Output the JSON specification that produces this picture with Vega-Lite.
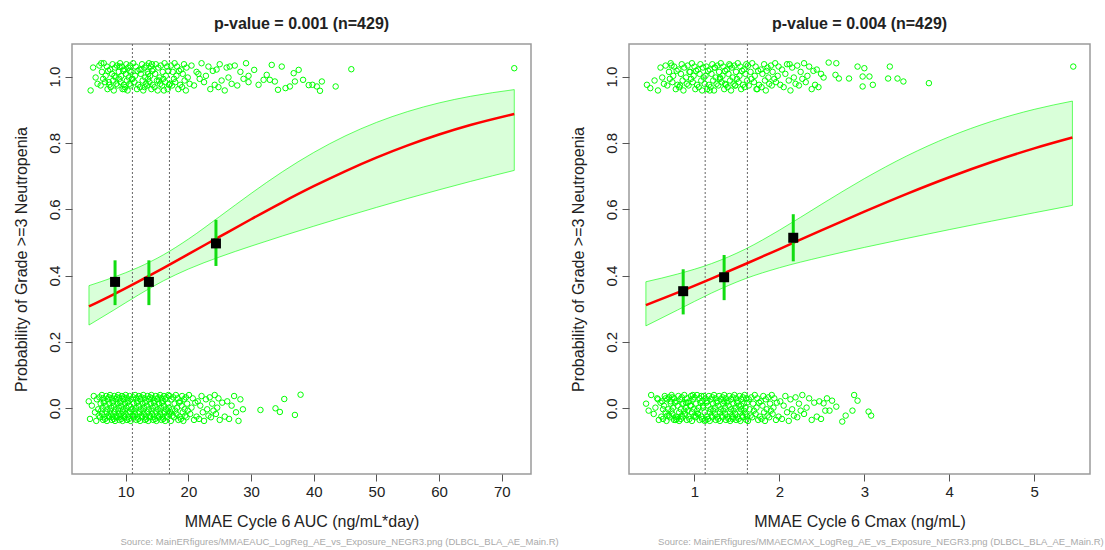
{
"$schema":"https://vega.github.io/schema/vega-lite/v6.json",
"background":"white",
"padding":{"left":12,"top":14,"right":0,"bottom":0},
"spacing":10,
"config":{
"font":"Liberation Sans",
"view":{"stroke":"#9a9a9a","strokeWidth":1.5},
"axis":{"grid":false,"domain":false,"tickColor":"#555555","tickSize":7,"labelFontSize":15,"labelColor":"#222222","titleFontSize":16,"titleFontWeight":"normal","titleColor":"#222222","labelFont":"Liberation Sans","titleFont":"Liberation Sans"},
"axisX":{"labelPadding":3,"titlePadding":14},
"axisY":{"labelPadding":3,"titlePadding":18},
"title":{"font":"Liberation Sans","fontSize":16,"fontWeight":"bold","color":"#222222"}
},
"datasets":{
"ptsA":[
{"x":4.1,"y":0.021},{"x":4.3,"y":-0.032},{"x":4.6,"y":0.008},{"x":4.9,"y":0.037},{"x":5.1,"y":-0.012},{"x":5.3,"y":-0.038},{"x":5.4,"y":0.027},{"x":5.6,"y":-0.003},{"x":5.7,"y":-0.022},{"x":5.8,"y":0.033},{"x":5.9,"y":-0.027},{"x":6.0,"y":0.014},{"x":6.1,"y":-0.007},{"x":6.2,"y":0.040},{"x":6.2,"y":-0.017},{"x":6.3,"y":0.002},{"x":6.4,"y":0.030},{"x":6.4,"y":-0.035},{"x":6.5,"y":0.017},{"x":6.6,"y":-0.025},
{"x":6.6,"y":0.021},{"x":6.7,"y":-0.032},{"x":6.8,"y":0.008},{"x":6.9,"y":0.037},{"x":7.0,"y":-0.012},{"x":7.0,"y":-0.038},{"x":7.1,"y":0.027},{"x":7.1,"y":-0.003},{"x":7.2,"y":-0.022},{"x":7.3,"y":0.033},{"x":7.4,"y":-0.027},{"x":7.4,"y":0.014},{"x":7.5,"y":-0.007},{"x":7.5,"y":0.040},{"x":7.6,"y":-0.017},{"x":7.7,"y":0.002},{"x":7.8,"y":0.030},{"x":7.8,"y":-0.035},{"x":7.9,"y":0.017},{"x":7.9,"y":-0.025},
{"x":8.0,"y":0.021},{"x":8.1,"y":-0.032},{"x":8.1,"y":0.008},{"x":8.2,"y":0.037},{"x":8.2,"y":-0.012},{"x":8.3,"y":-0.038},{"x":8.4,"y":0.027},{"x":8.4,"y":-0.003},{"x":8.5,"y":-0.022},{"x":8.6,"y":0.033},{"x":8.6,"y":-0.027},{"x":8.7,"y":0.014},{"x":8.8,"y":-0.007},{"x":8.8,"y":0.040},{"x":8.9,"y":-0.017},{"x":8.9,"y":0.002},{"x":9.0,"y":0.030},{"x":9.0,"y":-0.035},{"x":9.1,"y":0.017},{"x":9.1,"y":-0.025},
{"x":9.2,"y":0.021},{"x":9.3,"y":-0.032},{"x":9.3,"y":0.008},{"x":9.4,"y":0.037},{"x":9.5,"y":-0.012},{"x":9.5,"y":-0.038},{"x":9.6,"y":0.027},{"x":9.6,"y":-0.003},{"x":9.7,"y":-0.022},{"x":9.7,"y":0.033},{"x":9.8,"y":-0.027},{"x":9.9,"y":0.014},{"x":9.9,"y":-0.007},{"x":10.0,"y":0.040},{"x":10.0,"y":-0.017},{"x":10.1,"y":0.002},{"x":10.2,"y":0.030},{"x":10.2,"y":-0.035},{"x":10.3,"y":0.017},{"x":10.4,"y":-0.025},
{"x":10.4,"y":0.021},{"x":10.5,"y":-0.032},{"x":10.5,"y":0.008},{"x":10.6,"y":0.037},{"x":10.7,"y":-0.012},{"x":10.8,"y":-0.038},{"x":10.8,"y":0.027},{"x":10.9,"y":-0.003},{"x":11.0,"y":-0.022},
{"x":4.4,"y":0.958},{"x":4.8,"y":1.027},{"x":5.2,"y":0.997},{"x":5.5,"y":0.978},{"x":5.8,"y":1.033},{"x":6.0,"y":0.973},{"x":6.2,"y":1.014},{"x":6.4,"y":0.993},{"x":6.5,"y":1.040},{"x":6.7,"y":0.983},{"x":6.8,"y":1.002},{"x":7.0,"y":1.030},{"x":7.1,"y":0.962},{"x":7.2,"y":1.017},{"x":7.4,"y":0.975},{"x":7.5,"y":1.021},{"x":7.6,"y":0.968},{"x":7.8,"y":1.008},{"x":7.9,"y":1.037},{"x":8.0,"y":0.988},
{"x":8.1,"y":0.958},{"x":8.3,"y":1.027},{"x":8.4,"y":0.997},{"x":8.5,"y":0.978},{"x":8.6,"y":1.033},{"x":8.7,"y":0.973},{"x":8.9,"y":1.014},{"x":9.0,"y":0.993},{"x":9.1,"y":1.040},{"x":9.2,"y":0.983},{"x":9.3,"y":1.002},{"x":9.4,"y":1.030},{"x":9.5,"y":0.962},{"x":9.6,"y":1.017},{"x":9.7,"y":0.975},{"x":9.8,"y":1.021},{"x":9.9,"y":0.968},{"x":10.0,"y":1.008},{"x":10.1,"y":1.037},{"x":10.2,"y":0.988},
{"x":10.3,"y":0.958},{"x":10.4,"y":1.027},{"x":10.5,"y":0.997},{"x":10.6,"y":0.978},{"x":10.7,"y":1.033},{"x":10.8,"y":0.973},{"x":10.9,"y":1.014},{"x":11.0,"y":0.993},{"x":6.1,"y":1.040},{"x":7.3,"y":0.983},{"x":8.2,"y":1.002},{"x":9.0,"y":1.030},{"x":9.8,"y":0.962},{"x":10.6,"y":1.017},
{"x":11.1,"y":-0.003},{"x":11.2,"y":-0.022},{"x":11.2,"y":0.033},{"x":11.3,"y":-0.027},{"x":11.3,"y":0.014},{"x":11.4,"y":-0.007},{"x":11.5,"y":0.040},{"x":11.5,"y":-0.017},{"x":11.6,"y":0.002},{"x":11.7,"y":0.030},{"x":11.7,"y":-0.035},{"x":11.8,"y":0.017},{"x":11.9,"y":-0.025},{"x":11.9,"y":0.021},{"x":12.0,"y":-0.032},{"x":12.1,"y":0.008},{"x":12.1,"y":0.037},{"x":12.2,"y":-0.012},{"x":12.3,"y":-0.038},{"x":12.3,"y":0.027},
{"x":12.4,"y":-0.003},{"x":12.5,"y":-0.022},{"x":12.5,"y":0.033},{"x":12.6,"y":-0.027},{"x":12.7,"y":0.014},{"x":12.7,"y":-0.007},{"x":12.8,"y":0.040},{"x":12.9,"y":-0.017},{"x":12.9,"y":0.002},{"x":13.0,"y":0.030},{"x":13.1,"y":-0.035},{"x":13.1,"y":0.017},{"x":13.2,"y":-0.025},{"x":13.3,"y":0.021},{"x":13.3,"y":-0.032},{"x":13.4,"y":0.008},{"x":13.5,"y":0.037},{"x":13.5,"y":-0.012},{"x":13.6,"y":-0.038},{"x":13.7,"y":0.027},
{"x":13.7,"y":-0.003},{"x":13.8,"y":-0.022},{"x":13.9,"y":0.033},{"x":13.9,"y":-0.027},{"x":14.0,"y":0.014},{"x":14.1,"y":-0.007},{"x":14.1,"y":0.040},{"x":14.2,"y":-0.017},{"x":14.3,"y":0.002},{"x":14.3,"y":0.030},{"x":14.4,"y":-0.035},{"x":14.5,"y":0.017},{"x":14.5,"y":-0.025},{"x":14.6,"y":0.021},{"x":14.7,"y":-0.032},{"x":14.7,"y":0.008},{"x":14.8,"y":0.037},{"x":14.9,"y":-0.012},{"x":14.9,"y":-0.038},{"x":15.0,"y":0.027},
{"x":15.1,"y":-0.003},{"x":15.1,"y":-0.022},{"x":15.2,"y":0.033},{"x":15.3,"y":-0.027},{"x":15.3,"y":0.014},{"x":15.4,"y":-0.007},{"x":15.5,"y":0.040},{"x":15.5,"y":-0.017},{"x":15.6,"y":0.002},{"x":15.7,"y":0.030},{"x":15.7,"y":-0.035},{"x":15.8,"y":0.017},{"x":15.9,"y":-0.025},{"x":15.9,"y":0.021},{"x":16.0,"y":-0.032},{"x":16.1,"y":0.008},{"x":16.1,"y":0.037},{"x":16.2,"y":-0.012},{"x":16.3,"y":-0.038},{"x":16.3,"y":0.027},
{"x":16.4,"y":-0.003},{"x":16.5,"y":-0.022},{"x":16.5,"y":0.033},{"x":16.6,"y":-0.027},{"x":16.7,"y":0.014},{"x":16.7,"y":-0.007},{"x":16.8,"y":0.040},{"x":16.9,"y":-0.017},{"x":16.9,"y":0.002},
{"x":11.1,"y":0.993},{"x":11.2,"y":1.040},{"x":11.4,"y":0.983},{"x":11.5,"y":1.002},{"x":11.6,"y":1.030},{"x":11.8,"y":0.962},{"x":11.9,"y":1.017},{"x":12.0,"y":0.975},{"x":12.2,"y":1.021},{"x":12.3,"y":0.968},{"x":12.4,"y":1.008},{"x":12.6,"y":1.037},{"x":12.7,"y":0.988},{"x":12.8,"y":0.958},{"x":13.0,"y":1.027},{"x":13.1,"y":0.997},{"x":13.2,"y":0.978},{"x":13.3,"y":1.033},{"x":13.4,"y":0.973},{"x":13.5,"y":1.014},
{"x":13.6,"y":0.993},{"x":13.7,"y":1.040},{"x":13.8,"y":0.983},{"x":13.9,"y":1.002},{"x":14.0,"y":1.030},{"x":14.1,"y":0.962},{"x":14.2,"y":1.017},{"x":14.3,"y":0.975},{"x":14.4,"y":1.021},{"x":14.6,"y":0.968},{"x":14.7,"y":1.008},{"x":14.8,"y":1.037},{"x":15.0,"y":0.988},{"x":15.1,"y":0.958},{"x":15.2,"y":1.027},{"x":15.4,"y":0.997},{"x":15.5,"y":0.978},{"x":15.6,"y":1.033},{"x":15.8,"y":0.973},{"x":15.9,"y":1.014},
{"x":16.0,"y":0.993},{"x":16.2,"y":1.040},{"x":16.3,"y":0.983},{"x":16.4,"y":1.002},{"x":16.6,"y":1.030},{"x":16.7,"y":0.962},{"x":16.8,"y":1.017},{"x":16.9,"y":0.975},{"x":12.5,"y":1.021},{"x":13.0,"y":0.968},{"x":13.6,"y":1.008},{"x":14.2,"y":1.037},{"x":15.3,"y":0.988},{"x":16.1,"y":0.958},
{"x":17.0,"y":0.037},{"x":17.1,"y":-0.012},{"x":17.2,"y":-0.038},{"x":17.3,"y":0.027},{"x":17.4,"y":-0.003},{"x":17.5,"y":-0.022},{"x":17.6,"y":0.033},{"x":17.7,"y":-0.027},{"x":17.8,"y":0.014},{"x":17.9,"y":-0.007},{"x":18.0,"y":0.040},{"x":18.1,"y":-0.017},{"x":18.2,"y":0.002},{"x":18.3,"y":0.030},{"x":18.4,"y":-0.035},{"x":18.5,"y":0.017},{"x":18.6,"y":-0.025},{"x":18.7,"y":0.021},{"x":18.8,"y":-0.032},{"x":18.9,"y":0.008},
{"x":19.0,"y":0.037},{"x":19.1,"y":-0.012},{"x":19.2,"y":-0.038},{"x":19.3,"y":0.027},{"x":19.4,"y":-0.003},{"x":19.5,"y":-0.022},{"x":19.6,"y":0.033},{"x":19.7,"y":-0.027},{"x":19.8,"y":0.014},{"x":19.9,"y":-0.007},{"x":20.1,"y":0.040},{"x":20.3,"y":-0.017},{"x":20.5,"y":0.002},{"x":20.7,"y":0.030},{"x":20.9,"y":-0.035},{"x":21.1,"y":0.017},{"x":21.3,"y":-0.025},{"x":21.5,"y":0.021},{"x":21.7,"y":-0.032},{"x":21.9,"y":0.008},
{"x":22.1,"y":0.037},{"x":22.3,"y":-0.012},{"x":22.5,"y":-0.038},{"x":22.8,"y":0.027},{"x":23.0,"y":-0.003},{"x":23.2,"y":-0.022},{"x":23.4,"y":0.033},{"x":23.6,"y":-0.027},{"x":23.8,"y":0.014},{"x":24.0,"y":-0.007},{"x":24.2,"y":0.040},{"x":24.4,"y":-0.017},{"x":24.6,"y":0.002},{"x":24.8,"y":0.030},{"x":25.0,"y":-0.035},{"x":25.4,"y":0.017},{"x":25.8,"y":-0.025},{"x":26.2,"y":0.021},{"x":26.5,"y":-0.032},{"x":26.9,"y":0.008},
{"x":27.3,"y":0.037},{"x":27.6,"y":-0.012},{"x":28.0,"y":-0.038},{"x":28.3,"y":0.027},{"x":28.7,"y":-0.003},{"x":31.5,"y":-0.005},{"x":33.9,"y":0.0},{"x":34.6,"y":-0.011},{"x":35.3,"y":0.028},{"x":37.0,"y":-0.02},{"x":37.9,"y":0.041},
{"x":17.1,"y":0.978},{"x":17.2,"y":1.033},{"x":17.4,"y":0.973},{"x":17.5,"y":1.014},{"x":17.7,"y":0.993},{"x":17.8,"y":1.040},{"x":17.9,"y":0.983},{"x":18.1,"y":1.002},{"x":18.2,"y":1.030},{"x":18.4,"y":0.962},{"x":18.5,"y":1.017},{"x":18.7,"y":0.975},{"x":18.8,"y":1.021},{"x":19.0,"y":0.968},{"x":19.1,"y":1.008},{"x":19.3,"y":1.037},{"x":19.4,"y":0.988},{"x":19.6,"y":0.958},{"x":19.7,"y":1.027},{"x":19.9,"y":0.997},
{"x":20.2,"y":0.978},{"x":20.5,"y":1.033},{"x":20.9,"y":0.973},{"x":21.3,"y":1.014},{"x":21.8,"y":0.993},{"x":22.1,"y":1.040},{"x":22.5,"y":0.983},{"x":22.8,"y":1.002},{"x":23.2,"y":1.030},{"x":23.5,"y":0.962},{"x":23.9,"y":1.017},{"x":24.2,"y":0.975},{"x":24.5,"y":1.021},{"x":24.8,"y":0.968},{"x":21.6,"y":1.008},{"x":25.0,"y":1.037},{"x":25.3,"y":0.988},{"x":25.8,"y":0.958},{"x":26.1,"y":1.027},{"x":26.4,"y":0.997},
{"x":26.9,"y":0.978},{"x":27.4,"y":1.033},{"x":27.8,"y":0.973},{"x":28.3,"y":1.014},{"x":28.8,"y":0.993},{"x":29.2,"y":1.040},{"x":29.6,"y":0.983},{"x":29.6,"y":1.002},{"x":26.6,"y":1.030},
{"x":30.5,"y":1.02},{"x":31.2,"y":0.975},{"x":32.0,"y":0.99},{"x":32.5,"y":1.005},{"x":33.0,"y":0.99},{"x":33.3,"y":1.035},{"x":33.8,"y":0.985},{"x":34.3,"y":0.96},{"x":34.9,"y":1.03},{"x":35.5,"y":0.965},{"x":36.2,"y":0.97},{"x":36.8,"y":1.01},{"x":37.0,"y":0.985},{"x":37.6,"y":1.02},{"x":38.3,"y":0.99},{"x":39.2,"y":0.974},{"x":39.8,"y":0.975},{"x":40.5,"y":0.97},{"x":41.0,"y":0.957},{"x":41.3,"y":0.985},{"x":43.5,"y":0.97},{"x":46.0,"y":1.022},{"x":72.0,"y":1.025}
],
"ptsC":[
{"x":0.43,"y":0.014},{"x":0.46,"y":-0.007},{"x":0.49,"y":0.040},{"x":0.52,"y":-0.017},{"x":0.54,"y":0.002},{"x":0.56,"y":0.030},{"x":0.58,"y":-0.035},{"x":0.60,"y":0.017},{"x":0.61,"y":-0.025},{"x":0.62,"y":0.021},{"x":0.63,"y":-0.032},{"x":0.64,"y":0.008},{"x":0.65,"y":0.037},{"x":0.66,"y":-0.012},{"x":0.67,"y":-0.038},{"x":0.68,"y":0.027},{"x":0.69,"y":-0.003},{"x":0.70,"y":-0.022},{"x":0.70,"y":0.033},{"x":0.71,"y":-0.027},
{"x":0.72,"y":0.014},{"x":0.73,"y":-0.007},{"x":0.73,"y":0.040},{"x":0.74,"y":-0.017},{"x":0.75,"y":0.002},{"x":0.76,"y":0.030},{"x":0.76,"y":-0.035},{"x":0.77,"y":0.017},{"x":0.78,"y":-0.025},{"x":0.79,"y":0.021},{"x":0.79,"y":-0.032},{"x":0.80,"y":0.008},{"x":0.81,"y":0.037},{"x":0.82,"y":-0.012},{"x":0.82,"y":-0.038},{"x":0.83,"y":0.027},{"x":0.84,"y":-0.003},{"x":0.85,"y":-0.022},{"x":0.85,"y":0.033},{"x":0.86,"y":-0.027},
{"x":0.87,"y":0.014},{"x":0.88,"y":-0.007},{"x":0.88,"y":0.040},{"x":0.89,"y":-0.017},{"x":0.90,"y":0.002},{"x":0.91,"y":0.030},{"x":0.91,"y":-0.035},{"x":0.92,"y":0.017},{"x":0.93,"y":-0.025},{"x":0.94,"y":0.021},{"x":0.94,"y":-0.032},{"x":0.95,"y":0.008},{"x":0.96,"y":0.037},{"x":0.97,"y":-0.012},{"x":0.97,"y":-0.038},{"x":0.98,"y":0.027},{"x":0.99,"y":-0.003},{"x":1.00,"y":-0.022},{"x":1.00,"y":0.033},{"x":1.01,"y":-0.027},
{"x":1.02,"y":0.014},{"x":1.03,"y":-0.007},{"x":1.03,"y":0.040},{"x":1.04,"y":-0.017},{"x":1.05,"y":0.002},{"x":1.06,"y":0.030},{"x":1.06,"y":-0.035},{"x":1.07,"y":0.017},{"x":1.08,"y":-0.025},{"x":1.09,"y":0.021},{"x":1.09,"y":-0.032},{"x":1.10,"y":0.008},{"x":1.11,"y":0.037},{"x":1.12,"y":-0.012},{"x":1.12,"y":-0.038},{"x":0.57,"y":0.027},{"x":0.63,"y":-0.003},{"x":0.68,"y":-0.022},{"x":0.74,"y":0.033},{"x":0.80,"y":-0.027},
{"x":0.86,"y":0.014},{"x":0.92,"y":-0.007},{"x":0.98,"y":0.040},{"x":1.04,"y":-0.017},{"x":1.10,"y":0.002},{"x":0.66,"y":0.030},{"x":0.78,"y":-0.035},{"x":0.90,"y":0.017},{"x":1.02,"y":-0.025},{"x":0.72,"y":0.021},{"x":0.84,"y":-0.032},{"x":0.96,"y":0.008},{"x":1.08,"y":0.037},
{"x":0.44,"y":0.975},{"x":0.48,"y":0.965},{"x":0.53,"y":0.988},{"x":0.57,"y":0.958},{"x":0.60,"y":1.027},{"x":0.62,"y":0.997},{"x":0.64,"y":0.978},{"x":0.66,"y":1.033},{"x":0.68,"y":0.973},{"x":0.70,"y":1.014},{"x":0.71,"y":0.993},{"x":0.72,"y":1.040},{"x":0.74,"y":0.983},{"x":0.75,"y":1.002},{"x":0.76,"y":1.030},{"x":0.78,"y":0.962},{"x":0.79,"y":1.017},{"x":0.80,"y":0.975},{"x":0.81,"y":1.021},{"x":0.82,"y":0.968},
{"x":0.84,"y":1.008},{"x":0.85,"y":1.037},{"x":0.86,"y":0.988},{"x":0.87,"y":0.958},{"x":0.88,"y":1.027},{"x":0.90,"y":0.997},{"x":0.91,"y":0.978},{"x":0.92,"y":1.033},{"x":0.93,"y":0.973},{"x":0.94,"y":1.014},{"x":0.96,"y":0.993},{"x":0.97,"y":1.040},{"x":0.98,"y":0.983},{"x":0.99,"y":1.002},{"x":1.00,"y":1.030},{"x":1.01,"y":0.962},{"x":1.02,"y":1.017},{"x":1.03,"y":0.975},{"x":1.04,"y":1.021},{"x":1.05,"y":0.968},
{"x":1.06,"y":1.008},{"x":1.07,"y":1.037},{"x":1.08,"y":0.988},{"x":1.09,"y":0.958},{"x":1.10,"y":1.027},{"x":1.11,"y":0.997},{"x":1.12,"y":0.978},{"x":0.73,"y":1.033},{"x":0.83,"y":0.973},{"x":0.95,"y":1.014},
{"x":1.13,"y":0.030},{"x":1.13,"y":-0.035},{"x":1.14,"y":0.017},{"x":1.15,"y":-0.025},{"x":1.15,"y":0.021},{"x":1.16,"y":-0.032},{"x":1.16,"y":0.008},{"x":1.17,"y":0.037},{"x":1.18,"y":-0.012},{"x":1.18,"y":-0.038},{"x":1.19,"y":0.027},{"x":1.19,"y":-0.003},{"x":1.20,"y":-0.022},{"x":1.21,"y":0.033},{"x":1.21,"y":-0.027},{"x":1.22,"y":0.014},{"x":1.22,"y":-0.007},{"x":1.23,"y":0.040},{"x":1.24,"y":-0.017},{"x":1.24,"y":0.002},
{"x":1.25,"y":0.030},{"x":1.25,"y":-0.035},{"x":1.26,"y":0.017},{"x":1.27,"y":-0.025},{"x":1.27,"y":0.021},{"x":1.28,"y":-0.032},{"x":1.28,"y":0.008},{"x":1.29,"y":0.037},{"x":1.30,"y":-0.012},{"x":1.30,"y":-0.038},{"x":1.31,"y":0.027},{"x":1.31,"y":-0.003},{"x":1.32,"y":-0.022},{"x":1.33,"y":0.033},{"x":1.33,"y":-0.027},{"x":1.34,"y":0.014},{"x":1.34,"y":-0.007},{"x":1.35,"y":0.040},{"x":1.36,"y":-0.017},{"x":1.36,"y":0.002},
{"x":1.37,"y":0.030},{"x":1.37,"y":-0.035},{"x":1.38,"y":0.017},{"x":1.39,"y":-0.025},{"x":1.39,"y":0.021},{"x":1.40,"y":-0.032},{"x":1.40,"y":0.008},{"x":1.41,"y":0.037},{"x":1.42,"y":-0.012},{"x":1.42,"y":-0.038},{"x":1.43,"y":0.027},{"x":1.43,"y":-0.003},{"x":1.44,"y":-0.022},{"x":1.45,"y":0.033},{"x":1.45,"y":-0.027},{"x":1.46,"y":0.014},{"x":1.46,"y":-0.007},{"x":1.47,"y":0.040},{"x":1.48,"y":-0.017},{"x":1.48,"y":0.002},
{"x":1.49,"y":0.030},{"x":1.49,"y":-0.035},{"x":1.50,"y":0.017},{"x":1.51,"y":-0.025},{"x":1.51,"y":0.021},{"x":1.52,"y":-0.032},{"x":1.52,"y":0.008},{"x":1.53,"y":0.037},{"x":1.54,"y":-0.012},{"x":1.54,"y":-0.038},{"x":1.55,"y":0.027},{"x":1.55,"y":-0.003},{"x":1.56,"y":-0.022},{"x":1.57,"y":0.033},{"x":1.57,"y":-0.027},{"x":1.58,"y":0.014},{"x":1.58,"y":-0.007},{"x":1.59,"y":0.040},{"x":1.60,"y":-0.017},{"x":1.60,"y":0.002},
{"x":1.61,"y":0.030},{"x":1.61,"y":-0.035},{"x":1.62,"y":0.017},{"x":1.62,"y":-0.025},{"x":1.35,"y":0.021},{"x":1.45,"y":-0.032},{"x":1.55,"y":0.008},
{"x":1.13,"y":1.002},{"x":1.14,"y":1.030},{"x":1.15,"y":0.962},{"x":1.16,"y":1.017},{"x":1.17,"y":0.975},{"x":1.18,"y":1.021},{"x":1.19,"y":0.968},{"x":1.20,"y":1.008},{"x":1.21,"y":1.037},{"x":1.22,"y":0.988},{"x":1.23,"y":0.958},{"x":1.24,"y":1.027},{"x":1.25,"y":0.997},{"x":1.26,"y":0.978},{"x":1.27,"y":1.033},{"x":1.28,"y":0.973},{"x":1.29,"y":1.014},{"x":1.30,"y":0.993},{"x":1.31,"y":1.040},{"x":1.32,"y":0.983},
{"x":1.33,"y":1.002},{"x":1.34,"y":1.030},{"x":1.35,"y":0.962},{"x":1.36,"y":1.017},{"x":1.37,"y":0.975},{"x":1.38,"y":1.021},{"x":1.39,"y":0.968},{"x":1.40,"y":1.008},{"x":1.41,"y":1.037},{"x":1.42,"y":0.988},{"x":1.43,"y":0.958},{"x":1.44,"y":1.027},{"x":1.45,"y":0.997},{"x":1.46,"y":0.978},{"x":1.47,"y":1.033},{"x":1.48,"y":0.973},{"x":1.49,"y":1.014},{"x":1.50,"y":0.993},{"x":1.51,"y":1.040},{"x":1.52,"y":0.983},
{"x":1.53,"y":1.002},{"x":1.54,"y":1.030},{"x":1.55,"y":0.962},{"x":1.56,"y":1.017},{"x":1.57,"y":0.975},{"x":1.58,"y":1.021},{"x":1.59,"y":0.968},{"x":1.60,"y":1.008},{"x":1.61,"y":1.037},{"x":1.62,"y":0.988},{"x":1.18,"y":0.958},{"x":1.24,"y":1.027},{"x":1.30,"y":0.997},{"x":1.36,"y":0.978},{"x":1.42,"y":1.033},{"x":1.48,"y":0.973},
{"x":1.63,"y":-0.038},{"x":1.64,"y":0.027},{"x":1.65,"y":-0.003},{"x":1.66,"y":-0.022},{"x":1.67,"y":0.033},{"x":1.68,"y":-0.027},{"x":1.69,"y":0.014},{"x":1.70,"y":-0.007},{"x":1.71,"y":0.040},{"x":1.72,"y":-0.017},{"x":1.73,"y":0.002},{"x":1.74,"y":0.030},{"x":1.75,"y":-0.035},{"x":1.76,"y":0.017},{"x":1.77,"y":-0.025},{"x":1.78,"y":0.021},{"x":1.79,"y":-0.032},{"x":1.80,"y":0.008},{"x":1.81,"y":0.037},{"x":1.82,"y":-0.012},
{"x":1.83,"y":-0.038},{"x":1.84,"y":0.027},{"x":1.85,"y":-0.003},{"x":1.86,"y":-0.022},{"x":1.87,"y":0.033},{"x":1.88,"y":-0.027},{"x":1.89,"y":0.014},{"x":1.90,"y":-0.007},{"x":1.91,"y":0.040},{"x":1.92,"y":-0.017},{"x":1.93,"y":0.002},{"x":1.94,"y":0.030},{"x":1.96,"y":-0.035},{"x":1.97,"y":0.017},{"x":1.99,"y":-0.025},{"x":2.01,"y":0.021},{"x":2.03,"y":-0.032},{"x":2.05,"y":0.008},{"x":2.07,"y":0.037},{"x":2.09,"y":-0.012},
{"x":2.11,"y":-0.038},{"x":2.13,"y":0.027},{"x":2.15,"y":-0.003},{"x":2.17,"y":-0.022},{"x":2.19,"y":0.033},{"x":2.21,"y":-0.027},{"x":2.23,"y":0.014},{"x":2.25,"y":-0.007},{"x":2.27,"y":0.040},{"x":2.29,"y":-0.017},{"x":2.32,"y":0.002},{"x":2.35,"y":0.030},{"x":2.38,"y":-0.035},{"x":2.41,"y":0.017},{"x":2.44,"y":-0.025},{"x":2.47,"y":0.021},{"x":2.49,"y":-0.032},
{"x":2.52,"y":0.015},{"x":2.54,"y":-0.007},{"x":2.56,"y":0.03},{"x":2.59,"y":-0.007},{"x":2.62,"y":0.023},{"x":2.67,"y":0.005},{"x":2.74,"y":-0.04},{"x":2.78,"y":-0.022},{"x":2.86,"y":-0.007},{"x":2.88,"y":0.04},{"x":2.92,"y":0.023},{"x":3.05,"y":-0.01},{"x":3.08,"y":-0.022},
{"x":1.63,"y":1.033},{"x":1.64,"y":0.973},{"x":1.66,"y":1.014},{"x":1.67,"y":0.993},{"x":1.68,"y":1.040},{"x":1.70,"y":0.983},{"x":1.71,"y":1.002},{"x":1.72,"y":1.030},{"x":1.74,"y":0.962},{"x":1.75,"y":1.017},{"x":1.76,"y":0.975},{"x":1.78,"y":1.021},{"x":1.79,"y":0.968},{"x":1.80,"y":1.008},{"x":1.82,"y":1.037},{"x":1.83,"y":0.988},{"x":1.84,"y":0.958},{"x":1.86,"y":1.027},{"x":1.87,"y":0.997},{"x":1.88,"y":0.978},
{"x":1.90,"y":1.033},{"x":1.91,"y":0.973},{"x":1.92,"y":1.014},{"x":1.94,"y":0.993},{"x":1.95,"y":1.040},{"x":1.96,"y":0.983},{"x":1.98,"y":1.002},{"x":1.99,"y":1.030},{"x":1.73,"y":0.962},{"x":1.85,"y":1.017},{"x":2.01,"y":0.975},{"x":2.03,"y":1.021},{"x":2.05,"y":0.968},{"x":2.07,"y":1.008},{"x":2.09,"y":1.037},{"x":2.11,"y":0.988},{"x":2.13,"y":0.958},{"x":2.15,"y":1.027},{"x":2.17,"y":0.997},{"x":2.19,"y":0.978},
{"x":2.21,"y":1.033},{"x":2.23,"y":0.973},{"x":2.25,"y":1.014},{"x":2.27,"y":0.993},{"x":2.29,"y":1.040},{"x":2.31,"y":0.983},{"x":2.33,"y":1.002},{"x":2.35,"y":1.030},{"x":2.38,"y":0.962},{"x":2.40,"y":1.017},{"x":2.42,"y":0.975},{"x":2.44,"y":1.021},{"x":2.46,"y":0.968},{"x":2.49,"y":1.008},{"x":2.12,"y":1.037},
{"x":2.52,"y":0.997},{"x":2.58,"y":1.042},{"x":2.66,"y":1.005},{"x":2.67,"y":1.04},{"x":2.70,"y":0.994},{"x":2.82,"y":0.994},{"x":2.92,"y":1.03},{"x":2.98,"y":0.97},{"x":2.98,"y":1.0},{"x":3.00,"y":1.025},{"x":3.06,"y":1.0},{"x":3.10,"y":0.975},{"x":3.28,"y":0.994},{"x":3.30,"y":1.03},{"x":3.39,"y":0.994},{"x":3.46,"y":0.985},{"x":3.76,"y":0.98},{"x":5.46,"y":1.03}
],
"fitA":[
{"x":4.14,"fit":0.3071,"lo":0.2509,"hi":0.3697},{"x":8,"fit":0.3429,"lo":0.2949,"hi":0.3945},{"x":12,"fit":0.3821,"lo":0.3413,"hi":0.4245},{"x":16,"fit":0.4228,"lo":0.3841,"hi":0.4624},{"x":20,"fit":0.4646,"lo":0.4197,"hi":0.51},{"x":25,"fit":0.5174,"lo":0.4563,"hi":0.5781},{"x":30,"fit":0.5699,"lo":0.4887,"hi":0.6475},{"x":35,"fit":0.6209,"lo":0.5193,"hi":0.7129},{"x":40,"fit":0.6693,"lo":0.5488,"hi":0.771},{"x":45,"fit":0.7144,"lo":0.5775,"hi":0.8207},{"x":50,"fit":0.7556,"lo":0.6054,"hi":0.8616},{"x":55,"fit":0.7925,"lo":0.6325,"hi":0.8945},{"x":60,"fit":0.8252,"lo":0.6585,"hi":0.9204},{"x":65,"fit":0.8537,"lo":0.6837,"hi":0.9403},{"x":72,"fit":0.887,"lo":0.717,"hi":0.9605}
],
"fitC":[
{"x":0.428,"fit":0.311,"lo":0.2484,"hi":0.3814},{"x":0.8,"fit":0.3484,"lo":0.2961,"hi":0.4046},{"x":1.2,"fit":0.3908,"lo":0.3472,"hi":0.4361},{"x":1.6,"fit":0.4349,"lo":0.3908,"hi":0.48},{"x":2.0,"fit":0.48,"lo":0.4236,"hi":0.5369},{"x":2.5,"fit":0.5368,"lo":0.4561,"hi":0.6156},{"x":3.0,"fit":0.5926,"lo":0.4849,"hi":0.6922},{"x":3.5,"fit":0.6462,"lo":0.5121,"hi":0.7607},{"x":4.0,"fit":0.6963,"lo":0.5385,"hi":0.8184},{"x":4.5,"fit":0.7422,"lo":0.5642,"hi":0.8649},{"x":5.0,"fit":0.7833,"lo":0.5893,"hi":0.901},{"x":5.45,"fit":0.816,"lo":0.6115,"hi":0.9259}
],
"binsA":[{"x":8.3,"p":0.381,"lo":0.311,"hi":0.446},{"x":13.7,"p":0.381,"lo":0.311,"hi":0.446},{"x":24.4,"p":0.497,"lo":0.429,"hi":0.568}],
"binsC":[{"x":0.867,"p":0.353,"lo":0.283,"hi":0.419},{"x":1.349,"p":0.395,"lo":0.326,"hi":0.462},{"x":2.163,"p":0.514,"lo":0.443,"hi":0.585}],
"cutsA":[{"x":11.07},{"x":16.98}],
"cutsC":[{"x":1.126},{"x":1.623}]
},
"hconcat":[
{
"title":{"text":"Source: MainERfigures/MMAEAUC_LogReg_AE_vs_Exposure_NEGR3.png (DLBCL_BLA_AE_Main.R)","orient":"bottom","anchor":"end","fontSize":9.5,"fontWeight":"normal","color":"#aaaaaa","offset":7,"dx":27},
"vconcat":[{
"title":{"text":"p-value = 0.001 (n=429)","offset":12},
"width":459,"height":430,
"encoding":{"x":{"field":"x","type":"quantitative","scale":{"domain":[1.43,74.67],"nice":false,"zero":false},"axis":{"values":[10,20,30,40,50,60,70],"title":"MMAE Cycle 6 AUC (ng/mL*day)"}}},
"layer":[
{"data":{"name":"fitA"},"mark":{"type":"area","fill":"#00ff00","fillOpacity":0.15,"stroke":"#00ff00","strokeWidth":1,"strokeOpacity":0.6,"interpolate":"monotone"},"encoding":{"y":{"field":"lo","type":"quantitative","scale":{"domain":[-0.198,1.098],"nice":false,"zero":false},"axis":{"values":[0,0.2,0.4,0.6,0.8,1.0],"format":".1f","labelAngle":270,"labelAlign":"center","labelBaseline":"bottom"},"title":"Probability of Grade >=3 Neutropenia"},"y2":{"field":"hi"}}},
{"data":{"name":"cutsA"},"mark":{"type":"rule","color":"#666666","strokeWidth":1,"strokeDash":[2,2]},"encoding":{}},
{"data":{"name":"ptsA"},"mark":{"type":"point","shape":"circle","filled":false,"color":"#00ff00","size":30,"strokeWidth":1,"opacity":1},"encoding":{"y":{"field":"y","type":"quantitative","scale":{"domain":[-0.198,1.098],"nice":false,"zero":false},"axis":{"values":[0,0.2,0.4,0.6,0.8,1.0],"format":".1f","labelAngle":270,"labelAlign":"center","labelBaseline":"bottom"},"title":"Probability of Grade >=3 Neutropenia"}}},
{"data":{"name":"fitA"},"mark":{"type":"line","color":"#ff0000","strokeWidth":2.5,"interpolate":"monotone"},"encoding":{"y":{"field":"fit","type":"quantitative","axis":{"values":[0,0.2,0.4,0.6,0.8,1.0],"format":".1f","labelAngle":270,"labelAlign":"center","labelBaseline":"bottom"},"title":"Probability of Grade >=3 Neutropenia"}}},
{"data":{"name":"binsA"},"mark":{"type":"rule","color":"#11dd11","strokeWidth":3},"encoding":{"y":{"field":"lo","type":"quantitative","axis":{"values":[0,0.2,0.4,0.6,0.8,1.0],"format":".1f","labelAngle":270,"labelAlign":"center","labelBaseline":"bottom"},"title":"Probability of Grade >=3 Neutropenia"},"y2":{"field":"hi"}}},
{"data":{"name":"binsA"},"mark":{"type":"point","shape":"square","filled":true,"color":"#000000","size":100,"opacity":1},"encoding":{"y":{"field":"p","type":"quantitative","axis":{"values":[0,0.2,0.4,0.6,0.8,1.0],"format":".1f","labelAngle":270,"labelAlign":"center","labelBaseline":"bottom"},"title":"Probability of Grade >=3 Neutropenia"}}}
]
}]
},
{
"title":{"text":"Source: MainERfigures/MMAECMAX_LogReg_AE_vs_Exposure_NEGR3.png (DLBCL_BLA_AE_Main.R)","orient":"bottom","anchor":"end","fontSize":9.5,"fontWeight":"normal","color":"#aaaaaa","offset":7,"dx":13},
"vconcat":[{
"title":{"text":"p-value = 0.004 (n=429)","offset":12},
"width":461,"height":430,
"encoding":{"x":{"field":"x","type":"quantitative","scale":{"domain":[0.229,5.657],"nice":false,"zero":false},"axis":{"values":[1,2,3,4,5],"title":"MMAE Cycle 6 Cmax (ng/mL)"}}},
"layer":[
{"data":{"name":"fitC"},"mark":{"type":"area","fill":"#00ff00","fillOpacity":0.15,"stroke":"#00ff00","strokeWidth":1,"strokeOpacity":0.6,"interpolate":"monotone"},"encoding":{"y":{"field":"lo","type":"quantitative","scale":{"domain":[-0.198,1.098],"nice":false,"zero":false},"axis":{"values":[0,0.2,0.4,0.6,0.8,1.0],"format":".1f","labelAngle":270,"labelAlign":"center","labelBaseline":"bottom"},"title":"Probability of Grade >=3 Neutropenia"},"y2":{"field":"hi"}}},
{"data":{"name":"cutsC"},"mark":{"type":"rule","color":"#666666","strokeWidth":1,"strokeDash":[2,2]},"encoding":{}},
{"data":{"name":"ptsC"},"mark":{"type":"point","shape":"circle","filled":false,"color":"#00ff00","size":30,"strokeWidth":1,"opacity":1},"encoding":{"y":{"field":"y","type":"quantitative","scale":{"domain":[-0.198,1.098],"nice":false,"zero":false},"axis":{"values":[0,0.2,0.4,0.6,0.8,1.0],"format":".1f","labelAngle":270,"labelAlign":"center","labelBaseline":"bottom"},"title":"Probability of Grade >=3 Neutropenia"}}},
{"data":{"name":"fitC"},"mark":{"type":"line","color":"#ff0000","strokeWidth":2.5,"interpolate":"monotone"},"encoding":{"y":{"field":"fit","type":"quantitative","axis":{"values":[0,0.2,0.4,0.6,0.8,1.0],"format":".1f","labelAngle":270,"labelAlign":"center","labelBaseline":"bottom"},"title":"Probability of Grade >=3 Neutropenia"}}},
{"data":{"name":"binsC"},"mark":{"type":"rule","color":"#11dd11","strokeWidth":3},"encoding":{"y":{"field":"lo","type":"quantitative","axis":{"values":[0,0.2,0.4,0.6,0.8,1.0],"format":".1f","labelAngle":270,"labelAlign":"center","labelBaseline":"bottom"},"title":"Probability of Grade >=3 Neutropenia"},"y2":{"field":"hi"}}},
{"data":{"name":"binsC"},"mark":{"type":"point","shape":"square","filled":true,"color":"#000000","size":100,"opacity":1},"encoding":{"y":{"field":"p","type":"quantitative","axis":{"values":[0,0.2,0.4,0.6,0.8,1.0],"format":".1f","labelAngle":270,"labelAlign":"center","labelBaseline":"bottom"},"title":"Probability of Grade >=3 Neutropenia"}}}
]
}]
}
]
}
